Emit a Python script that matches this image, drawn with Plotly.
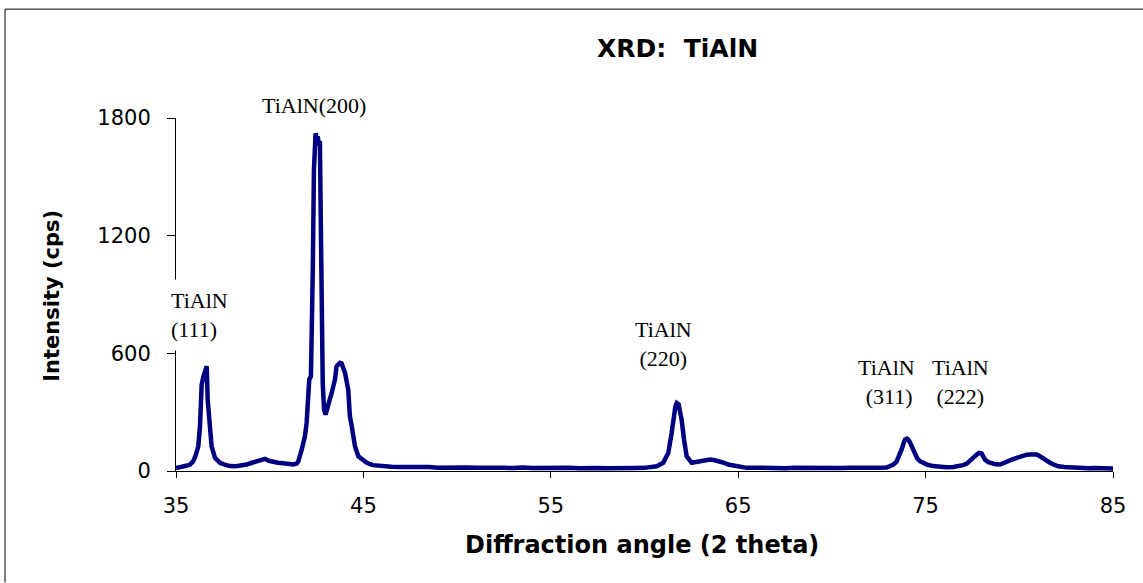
import plotly.graph_objects as go

two_theta = [
    35.0, 35.2, 35.4, 35.6, 35.75, 35.92, 36.05, 36.19, 36.28, 36.37,
    36.46, 36.55, 36.64, 36.69, 36.78, 36.9, 37.08, 37.35, 37.6, 37.88,
    38.2, 38.5, 38.77, 39.05, 39.3, 39.55, 39.75, 39.95, 40.19, 40.45,
    40.73, 41.0, 41.26, 41.44, 41.53, 41.71, 41.88, 41.97, 42.11, 42.2,
    42.24, 42.3, 42.36, 42.45, 42.5, 42.56, 42.62, 42.68, 42.74, 42.77,
    42.83, 42.9, 42.98, 43.05, 43.13, 43.22, 43.31, 43.48, 43.57, 43.66,
    43.75, 43.84, 43.93, 44.02, 44.19, 44.28, 44.38, 44.55, 44.73, 44.95,
    45.18, 45.5, 46.0, 46.5, 47.0, 47.5, 48.0, 48.5, 49.0, 49.5,
    50.0, 50.5, 51.0, 51.5, 52.0, 52.5, 53.0, 53.5, 54.0, 54.5,
    55.0, 55.5, 56.0, 56.5, 57.0, 57.5, 58.0, 58.5, 59.0, 59.5,
    60.0, 60.3, 60.65, 61.0, 61.27, 61.45, 61.57, 61.65, 61.72, 61.82,
    61.9, 61.98, 62.11, 62.25, 62.52, 62.75, 62.96, 63.2, 63.5, 63.75,
    64.03, 64.25, 64.47, 64.7, 64.92, 65.2, 65.45, 66.0, 66.5, 67.0,
    67.5, 68.0, 68.5, 69.0, 69.5, 70.0, 70.5, 71.0, 71.5, 72.0,
    72.5, 72.92, 73.1, 73.28, 73.45, 73.55, 73.72, 73.82, 73.9, 74.0,
    74.08, 74.17, 74.26, 74.43, 74.55, 74.7, 74.88, 75.06, 75.4, 75.77,
    76.1, 76.48, 76.75, 77.01, 77.2, 77.37, 77.55, 77.73, 77.85, 77.99,
    78.17, 78.35, 78.53, 78.75, 78.97, 79.2, 79.41, 79.6, 79.86, 80.05,
    80.21, 80.4, 80.57, 80.75, 80.93, 81.1, 81.28, 81.45, 81.64, 81.85,
    82.08, 82.4, 82.88, 83.3, 83.7, 84.0, 84.3, 84.6, 85.0,
]
intensity = [
    15, 18, 25, 28, 33, 50, 80, 126, 228, 440,
    480, 520, 534, 364, 228, 126, 67, 42, 32, 25,
    24, 28, 33, 42, 50, 57, 62, 52, 46, 42,
    39, 36, 33, 38, 50, 110, 177, 245, 466, 483,
    975, 1026, 1536, 1722, 1700, 1705, 1671, 1671, 1162, 687,
    449, 313, 288, 310, 347, 370, 398, 466, 534, 545,
    551, 548, 520, 500, 415, 279, 228, 126, 75, 55,
    42, 30, 24, 22, 20, 21, 18, 20, 17, 19,
    16, 18, 17, 15, 17, 16, 15, 18, 15, 16,
    14, 15, 17, 14, 16, 15, 14, 16, 15, 15,
    16, 18, 24, 42, 93, 195, 296, 330, 347, 340,
    300, 262, 160, 75, 42, 45, 50, 52, 58, 55,
    50, 42, 33, 28, 24, 20, 16, 17, 15, 16,
    14, 16, 15, 14, 16, 15, 15, 17, 15, 16,
    17, 18, 25, 33, 48, 67, 110, 140, 160, 165,
    160, 145, 126, 84, 65, 50, 40, 33, 25, 20,
    19, 20, 24, 30, 38, 50, 68, 84, 92, 89,
    58, 45, 38, 34, 33, 40, 50, 58, 67, 74,
    79, 83, 84, 86, 84, 75, 62, 50, 42, 32,
    24, 20, 16, 15, 14, 15, 13, 14, 13,
]

x_ticks = [35, 45, 55, 65, 75, 85]
y_ticks = [0, 600, 1200, 1800]
X_RANGE = [35, 85]
Y_RANGE = [0, 1800]

peak_labels = ["TiAlN(200)", "TiAlN<br>(111)", "TiAlN<br>(220)",
               "TiAlN<br> (311)", "TiAlN<br>(222)"]
label_x = [42.36, 34.25, 61.04, 72.9, 76.84]
label_y = [1862, 797, 650, 456, 456]

SANS = "DejaVu Sans, Arial, sans-serif"
SERIF = "Liberation Serif, Times New Roman, serif"

fig = go.Figure()
fig.add_trace(go.Scatter(
    x=two_theta, y=intensity, mode="lines",
    line=dict(color="#000080", width=4.5),
    showlegend=False, hoverinfo="skip", cliponaxis=False,
))

fig.update_layout(
    width=1143, height=583,
    margin=dict(l=176, r=30, t=118, b=111.5),
    paper_bgcolor="white", plot_bgcolor="white",
    font=dict(family=SANS, color="black"),
)
fig.update_xaxes(
    range=X_RANGE, tickvals=x_ticks, ticktext=[str(v) for v in x_ticks],
    showline=True, linecolor="black", linewidth=1,
    ticks="outside", ticklen=6, tickcolor="black", tickwidth=1,
    showgrid=False, zeroline=False,
    tickfont=dict(family=SANS, size=21, color="black"),
    ticklabelstandoff=10,
)
fig.update_yaxes(
    range=Y_RANGE, tickvals=y_ticks, ticktext=[str(v) for v in y_ticks],
    showline=True, linecolor="black", linewidth=1,
    ticks="outside", ticklen=8, tickcolor="black", tickwidth=1,
    showgrid=False, zeroline=False,
    tickfont=dict(family=SANS, size=21, color="black"),
    ticklabelstandoff=12,
)


def to_paper_x(v):
    return (v - X_RANGE[0]) / (X_RANGE[1] - X_RANGE[0])


def to_paper_y(v):
    return (v - Y_RANGE[0]) / (Y_RANGE[1] - Y_RANGE[0])


annotations = []
# chart title
annotations.append(dict(
    text="<b>XRD:\u00a0\u00a0TiAlN</b>", xref="paper", yref="paper",
    x=(677 - 176) / 937, y=(471.5 - 48) / 353.5, showarrow=False,
    xanchor="center", yanchor="middle",
    font=dict(family=SANS, size=25, color="black"),
))
# x axis title
annotations.append(dict(
    text="<b>Diffraction angle (2 theta)</b>", xref="paper", yref="paper",
    x=(642 - 176) / 937, y=(471.5 - 546) / 353.5, showarrow=False,
    xanchor="center", yanchor="middle",
    font=dict(family=SANS, size=24, color="black"),
))
# y axis title
annotations.append(dict(
    text="<b>Intensity (cps)</b>", xref="paper", yref="paper",
    x=(52 - 176) / 937, y=(471.5 - 296) / 353.5, showarrow=False,
    xanchor="center", yanchor="middle", textangle=-90,
    font=dict(family=SANS, size=21, color="black"),
))
# peak labels
for i, (t, lx, ly) in enumerate(zip(peak_labels, label_x, label_y)):
    a = dict(text=t, x=to_paper_x(lx), y=to_paper_y(ly),
             xref="paper", yref="paper", showarrow=False,
             yanchor="middle", font=dict(family=SERIF, size=22, color="black"))
    if i == 1:
        a.update(xanchor="left", align="left", bgcolor="white", borderpad=8)
    else:
        a.update(xanchor="center", align="center")
    annotations.append(a)

fig.update_layout(annotations=annotations)

# partial frame (top and left edges) around the chart
fig.add_shape(type="line", xref="paper", yref="paper",
              x0=(5 - 176) / 937, x1=(1143 - 176) / 937,
              y0=(471.5 - 9) / 353.5, y1=(471.5 - 9) / 353.5,
              line=dict(color="black", width=1))
fig.add_shape(type="line", xref="paper", yref="paper",
              x0=(5 - 176) / 937, x1=(5 - 176) / 937,
              y0=(471.5 - 9) / 353.5, y1=(471.5 - 583) / 353.5,
              line=dict(color="black", width=1))

fig.write_html("out.html")
